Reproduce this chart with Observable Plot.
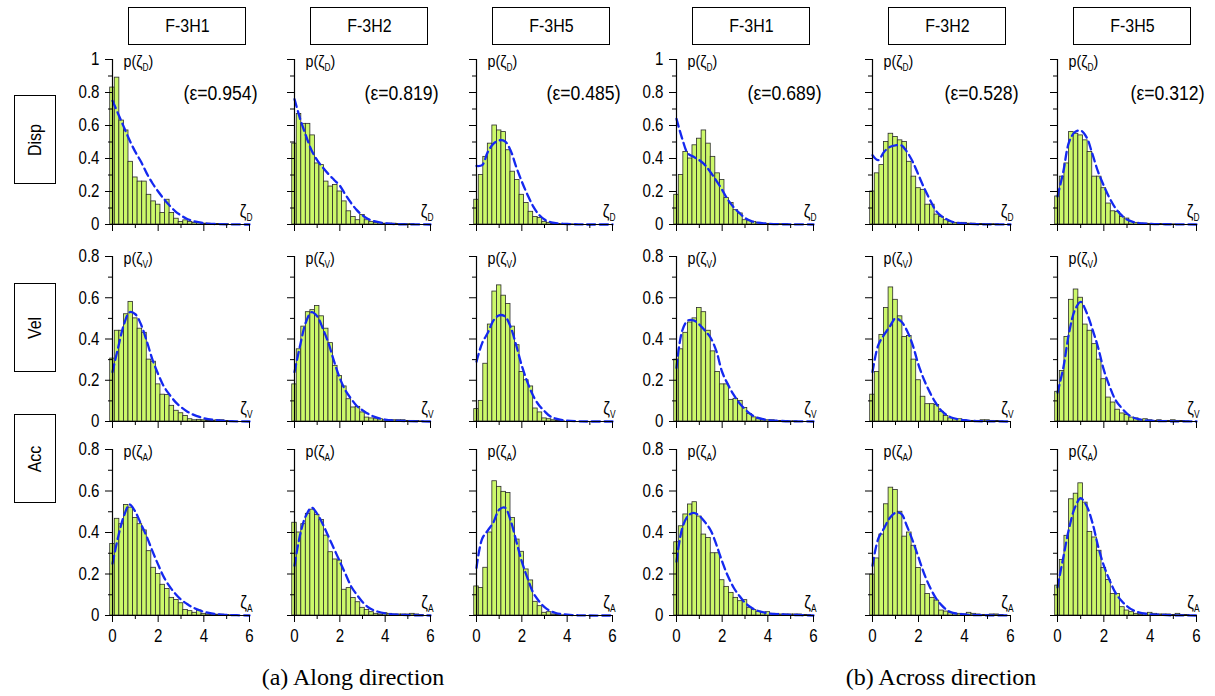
<!DOCTYPE html>
<html><head><meta charset="utf-8">
<script src="https://cdn.jsdelivr.net/npm/d3@7"></script>
<script src="https://cdn.jsdelivr.net/npm/@observablehq/plot@0.6"></script>
<style>
body{margin:0;background:#fff;}
#root{position:relative;width:1215px;height:696px;overflow:hidden;background:#fff;font-family:"Liberation Sans",Arial,sans-serif;color:#000;}
.box{position:absolute;border:1.3px solid #000;box-sizing:border-box;display:flex;align-items:center;justify-content:center;font-size:19px;background:#fff;}
.box span{display:inline-block;white-space:nowrap;transform:scaleX(0.84);}
.rowbox span{transform:rotate(-90deg) scaleX(0.84);}
.caption{position:absolute;font-family:"Liberation Serif","Times New Roman",serif;font-size:24px;transform:translate(-50%,-50%);white-space:nowrap;}
.panel{position:absolute;}
.panel svg{overflow:visible;max-width:none !important;}
</style></head>
<body><div id="root"></div>
<script>
// ---------- labels ----------
const columnLabels = ["F-3H1","F-3H2","F-3H5","F-3H1","F-3H2","F-3H5"];
const rowLabels = ["Disp","Vel","Acc"];
const rowSubscripts = ["D","V","A"];
const epsilonLabels = ["(ε=0.954)","(ε=0.819)","(ε=0.485)","(ε=0.689)","(ε=0.528)","(ε=0.312)"];
const captions = ["(a) Along direction","(b) Across direction"];
const xTickLabels = [0,2,4,6];
const xMinorTicks = [1,3,5];

// ---------- histogram bin centres and curve sample points ----------
const binCenters = [0,0.2,0.4,0.6,0.8,1,1.2,1.4,1.6,1.8,2,2.2,2.4,2.6,2.8,3,3.2,3.4,3.6,3.8,4,4.2,4.4,4.6,4.8,5,5.2,5.4,5.6,5.8];
const curveX = [0,0.25,0.5,0.75,1,1.25,1.5,1.75,2,2.25,2.5,2.75,3,3.25,3.5,4,4.5,5,6];

// ---------- Disp (row 1) ----------
const dispAlongH1Bars = [0.83,0.89,0.63,0.57,0.38,0.285,0.26,0.26,0.18,0.14,0.12,0.07,0.15,0.07,0.035,0.015,0.025,0.015,0.01,0.01,0.005,0.005,0.003,0.003,0.002,0.002,0,0,0,0];
const dispAlongH1Curve = [0.75,0.67,0.59,0.51,0.44,0.38,0.31,0.25,0.2,0.155,0.115,0.08,0.055,0.035,0.022,0.008,0.003,0.001,0];
const dispAlongH2Bars = [0.49,0.67,0.61,0.61,0.54,0.37,0.36,0.26,0.23,0.24,0.2,0.14,0.08,0.046,0.026,0.057,0.026,0.016,0.01,0.01,0.005,0.005,0.005,0.003,0.003,0.002,0.002,0,0,0];
const dispAlongH2Curve = [0.76,0.64,0.54,0.45,0.39,0.345,0.305,0.27,0.235,0.18,0.13,0.087,0.055,0.033,0.02,0.007,0.002,0.001,0];
const dispAlongH5Bars = [0.15,0.30,0.41,0.49,0.60,0.57,0.56,0.45,0.32,0.27,0.18,0.13,0.077,0.046,0.04,0.016,0.01,0.004,0.003,0.002,0.002,0.001,0,0,0,0,0,0,0,0];
const dispAlongH5Curve = [0.355,0.36,0.44,0.49,0.51,0.505,0.45,0.35,0.26,0.18,0.11,0.06,0.03,0.015,0.008,0.003,0.001,0,0];
const dispAcrossH1Bars = [0.18,0.30,0.44,0.40,0.48,0.52,0.57,0.49,0.41,0.31,0.27,0.16,0.13,0.087,0.067,0.026,0.02,0.016,0.01,0.004,0.004,0.003,0.002,0.002,0.001,0,0,0,0,0];
const dispAcrossH1Curve = [0.64,0.52,0.43,0.41,0.39,0.36,0.315,0.265,0.21,0.15,0.105,0.07,0.04,0.022,0.012,0.005,0.002,0.001,0];
const dispAcrossH2Bars = [0.20,0.31,0.36,0.50,0.55,0.53,0.51,0.50,0.38,0.29,0.22,0.21,0.12,0.12,0.06,0.046,0.026,0.016,0.01,0.01,0.01,0.005,0.005,0.003,0.003,0.002,0.002,0.001,0,0];
const dispAcrossH2Curve = [0.42,0.39,0.44,0.47,0.48,0.48,0.44,0.38,0.30,0.22,0.15,0.085,0.05,0.03,0.015,0.006,0.002,0.001,0];
const dispAcrossH5Bars = [0.17,0.29,0.37,0.56,0.55,0.54,0.51,0.44,0.29,0.29,0.22,0.127,0.08,0.076,0.046,0.036,0.016,0.01,0.005,0.005,0.004,0.003,0.003,0.002,0.002,0.001,0,0,0,0];
const dispAcrossH5Curve = [0.17,0.32,0.50,0.56,0.57,0.53,0.43,0.32,0.235,0.16,0.10,0.058,0.03,0.016,0.009,0.004,0.002,0.001,0];

// ---------- Vel (row 2) ----------
const velAlongH1Bars = [0.305,0.44,0.44,0.52,0.58,0.50,0.45,0.43,0.30,0.29,0.18,0.13,0.128,0.076,0.052,0.04,0.027,0.011,0.006,0.008,0.006,0.003,0.003,0.006,0.006,0.002,0.001,0,0,0];
const velAlongH1Curve = [0.24,0.36,0.47,0.53,0.52,0.47,0.39,0.30,0.23,0.17,0.13,0.095,0.07,0.05,0.035,0.016,0.007,0.002,0];
const velAlongH2Bars = [0.18,0.35,0.46,0.53,0.54,0.56,0.51,0.45,0.38,0.27,0.22,0.17,0.108,0.068,0.071,0.044,0.019,0.015,0.011,0.011,0.006,0.006,0.006,0.006,0.006,0.003,0.003,0.002,0.001,0];
const velAlongH2Curve = [0.24,0.37,0.48,0.53,0.51,0.45,0.38,0.29,0.21,0.15,0.11,0.075,0.055,0.037,0.024,0.009,0.004,0.002,0];
const velAlongH5Bars = [0.06,0.10,0.28,0.47,0.63,0.66,0.61,0.57,0.46,0.37,0.24,0.20,0.17,0.063,0.044,0.015,0.011,0.006,0.003,0.001,0,0,0,0,0,0,0,0,0,0];
const velAlongH5Curve = [0.29,0.38,0.43,0.49,0.515,0.51,0.46,0.37,0.27,0.19,0.125,0.08,0.05,0.025,0.014,0.004,0.001,0,0];
const velAcrossH1Bars = [0.30,0.35,0.43,0.48,0.50,0.55,0.53,0.44,0.34,0.24,0.18,0.18,0.105,0.11,0.10,0.065,0.036,0.02,0.011,0.006,0.006,0.006,0.003,0.003,0.002,0.001,0.001,0,0,0];
const velAcrossH1Curve = [0.26,0.44,0.49,0.49,0.47,0.44,0.405,0.34,0.24,0.18,0.13,0.09,0.06,0.035,0.02,0.007,0.003,0.001,0];
const velAcrossH2Bars = [0.13,0.24,0.42,0.55,0.65,0.59,0.51,0.41,0.415,0.30,0.20,0.12,0.084,0.084,0.08,0.047,0.027,0.015,0.011,0.011,0.006,0.003,0.003,0.003,0.006,0.006,0.003,0.002,0.001,0];
const velAcrossH2Curve = [0.24,0.37,0.42,0.46,0.50,0.485,0.44,0.37,0.275,0.20,0.14,0.09,0.052,0.03,0.017,0.006,0.002,0.001,0];
const velAcrossH5Bars = [0.144,0.245,0.41,0.59,0.64,0.60,0.47,0.44,0.375,0.30,0.205,0.116,0.092,0.057,0.039,0.032,0.019,0.015,0.006,0.011,0.006,0.003,0.006,0.003,0.003,0.006,0.003,0.002,0.001,0];
const velAcrossH5Curve = [0.14,0.26,0.43,0.54,0.58,0.53,0.45,0.36,0.25,0.17,0.105,0.068,0.038,0.02,0.011,0.004,0.002,0.001,0];

// ---------- Acc (row 3) ----------
const accAlongH1Bars = [0.345,0.466,0.44,0.533,0.52,0.47,0.44,0.41,0.31,0.23,0.20,0.148,0.128,0.085,0.075,0.059,0.027,0.021,0.013,0.024,0.008,0.005,0.005,0.004,0.004,0.002,0.001,0,0,0];
const accAlongH1Curve = [0.25,0.38,0.48,0.535,0.50,0.44,0.38,0.31,0.245,0.185,0.14,0.105,0.077,0.057,0.04,0.018,0.007,0.003,0];
const accAlongH2Bars = [0.447,0.40,0.44,0.49,0.51,0.485,0.46,0.385,0.305,0.27,0.265,0.124,0.132,0.084,0.064,0.037,0.027,0.016,0.008,0.005,0.011,0.008,0.005,0.005,0.005,0.005,0.008,0.005,0.002,0];
const accAlongH2Curve = [0.24,0.39,0.48,0.52,0.49,0.44,0.38,0.32,0.26,0.20,0.14,0.10,0.065,0.04,0.025,0.01,0.004,0.002,0];
const accAlongH5Bars = [0.14,0.133,0.23,0.40,0.647,0.62,0.596,0.59,0.47,0.366,0.307,0.222,0.169,0.066,0.045,0.013,0.016,0.005,0.002,0.001,0,0,0,0,0,0,0,0,0,0];
const accAlongH5Curve = [0.23,0.37,0.41,0.45,0.51,0.52,0.46,0.36,0.26,0.18,0.11,0.07,0.04,0.022,0.012,0.004,0.001,0,0];
const accAcrossH1Bars = [0.353,0.43,0.487,0.535,0.546,0.477,0.39,0.374,0.30,0.30,0.17,0.138,0.109,0.085,0.069,0.074,0.037,0.026,0.018,0.013,0.016,0.008,0.008,0.005,0.005,0.005,0.005,0.005,0.003,0.002];
const accAcrossH1Curve = [0.26,0.42,0.48,0.495,0.48,0.45,0.41,0.34,0.26,0.19,0.135,0.095,0.062,0.04,0.025,0.011,0.006,0.003,0];
const accAcrossH2Bars = [0.197,0.275,0.39,0.536,0.616,0.605,0.50,0.38,0.40,0.336,0.229,0.147,0.104,0.085,0.072,0.024,0.019,0.011,0.008,0.008,0.005,0.013,0.008,0.005,0.003,0.003,0.005,0.005,0.002,0];
const accAcrossH2Curve = [0.24,0.37,0.42,0.47,0.495,0.49,0.43,0.36,0.28,0.20,0.136,0.085,0.05,0.025,0.013,0.005,0.002,0.001,0];
const accAcrossH5Bars = [0.144,0.267,0.384,0.56,0.587,0.637,0.544,0.403,0.376,0.312,0.229,0.171,0.104,0.104,0.04,0.024,0.016,0.008,0.005,0.008,0.013,0.008,0.005,0.005,0.005,0.003,0.008,0.003,0.002,0];
const accAcrossH5Curve = [0.136,0.28,0.42,0.52,0.565,0.53,0.45,0.335,0.24,0.17,0.11,0.072,0.045,0.026,0.015,0.006,0.003,0.001,0];

const panelBars = [
  [dispAlongH1Bars,dispAlongH2Bars,dispAlongH5Bars,dispAcrossH1Bars,dispAcrossH2Bars,dispAcrossH5Bars],
  [velAlongH1Bars,velAlongH2Bars,velAlongH5Bars,velAcrossH1Bars,velAcrossH2Bars,velAcrossH5Bars],
  [accAlongH1Bars,accAlongH2Bars,accAlongH5Bars,accAcrossH1Bars,accAcrossH2Bars,accAcrossH5Bars]
];
const panelCurves = [
  [dispAlongH1Curve,dispAlongH2Curve,dispAlongH5Curve,dispAcrossH1Curve,dispAcrossH2Curve,dispAcrossH5Curve],
  [velAlongH1Curve,velAlongH2Curve,velAlongH5Curve,velAcrossH1Curve,velAcrossH2Curve,velAcrossH5Curve],
  [accAlongH1Curve,accAlongH2Curve,accAlongH5Curve,accAcrossH1Curve,accAcrossH2Curve,accAcrossH5Curve]
];

// ---------- layout (pixels) ----------
const colX0 = [112,294,476,676,872,1057];
const colW = [137,136,136,137,138,139];
const rowTop = [59,256,449];
const rowH = [165,165,166];
const FONT = '"Liberation Sans",Arial,sans-serif';
const NARROW = 0.84;

const root = document.getElementById("root");

function subscriptify(svg) {
  d3.select(svg).selectAll("text").each(function() {
    const t = this.textContent;
    const m = t.match(/^(p\(ζ|ζ)([DVA])(\)?)$/);
    if (!m) return;
    const sel = d3.select(this);
    sel.text(null);
    sel.append("tspan").text(m[1]);
    sel.append("tspan").attr("font-size", "10px").attr("dy", "4").text(m[2]);
    if (m[3]) sel.append("tspan").attr("dy", "-4").text(m[3]);
  });
}
function narrowText(svg) {
  d3.select(svg).selectAll("text").each(function() {
    const tr = this.getAttribute("transform") || "";
    const x = +(this.getAttribute("x") || 0);
    this.setAttribute("transform", `${tr} translate(${x},0) scale(${NARROW},1) translate(${-x},0)`);
  });
}

function makePanel(r, c) {
  const bars = panelBars[r][c], curveY = panelCurves[r][c];
  const yMax = r === 0 ? 1 : 0.8;
  const ml = 50, mr = 24, mt = 16, mb = r === 2 ? 40 : 14;
  const w = colW[c], h = rowH[r];
  const barData = binCenters.map((x, i) => ({x1: x - 0.1, x2: x + 0.1, h: bars[i]})).filter(d => d.h > 0);
  const curveData = curveX.map((x, i) => ({x, y: curveY[i]}));
  const showY = c === 0 || c === 3;
  const showX = r === 2;
  const yMajor = r === 0 ? [0,0.2,0.4,0.6,0.8,1] : [0,0.2,0.4,0.6,0.8];
  const yMinor = r === 0 ? [0.1,0.3,0.5,0.7,0.9] : [0.1,0.3,0.5,0.7];
  const sub = rowSubscripts[r];
  const marks = [
    Plot.rectY(barData, {x1: "x1", x2: "x2", y: "h", fill: "#ccf86a", stroke: "#2a2a2a", strokeWidth: 0.8}),
    Plot.line(curveData, {x: "x", y: "y", stroke: "#1428f0", strokeWidth: 2.3, strokeDasharray: "8,4.5", curve: "catmull-rom"}),
    Plot.ruleX([0], {stroke: "#000", strokeWidth: 1.2}),
    Plot.ruleY([0], {stroke: "#000", strokeWidth: 1.2}),
    Plot.axisX({ticks: xTickLabels, tickSize: 7, tickPadding: 7, tickFormat: showX ? (d => String(d)) : (() => ""), label: null, fontSize: 18}),
    Plot.axisX({ticks: xMinorTicks, tickSize: 4, tickFormat: () => "", label: null}),
    Plot.axisY({ticks: yMajor, tickSize: 7, tickPadding: 6, tickFormat: showY ? (d => String(+d.toFixed(1))) : (() => ""), label: null, fontSize: 18}),
    Plot.axisY({ticks: yMinor, tickSize: 4, tickFormat: () => "", label: null}),
    Plot.text([`p(ζ${sub})`], {frameAnchor: "top-left", dx: 11, dy: 2, textAnchor: "start", lineAnchor: "middle", fontSize: 17}),
    Plot.text([`ζ${sub}`], {frameAnchor: "bottom-right", dx: 3, dy: -13, textAnchor: "end", lineAnchor: "middle", fontSize: 18})
  ];
  if (r === 0) marks.push(Plot.text([epsilonLabels[c]], {frameAnchor: "top-right", dx: 8, dy: 34, textAnchor: "end", lineAnchor: "middle", fontSize: 21}));
  const svg = Plot.plot({
    width: ml + w + mr, height: mt + h + mb,
    marginLeft: ml, marginRight: mr, marginTop: mt, marginBottom: mb,
    x: {domain: [0, 6], axis: null},
    y: {domain: [0, yMax], axis: null},
    style: {fontFamily: FONT, fontSize: "17px", color: "#000", background: "transparent", overflow: "visible", maxWidth: "none"},
    marks
  });
  subscriptify(svg);
  narrowText(svg);
  const div = document.createElement("div");
  div.className = "panel";
  div.style.left = (colX0[c] - ml) + "px";
  div.style.top = (rowTop[r] - mt) + "px";
  div.style.width = (ml + w + mr) + "px";
  div.appendChild(svg);
  root.appendChild(div);
}

for (let r = 0; r < 3; r++) for (let c = 0; c < 6; c++) makePanel(r, c);

// column header boxes
columnLabels.forEach((t, c) => {
  const d = document.createElement("div");
  d.className = "box";
  d.style.left = (colX0[c] + 16) + "px";
  d.style.top = "7px";
  d.style.width = "118px";
  d.style.height = "38px";
  const s = document.createElement("span");
  s.textContent = t;
  d.appendChild(s);
  root.appendChild(d);
});
// row boxes
const rowBoxTop = [95, 283, 414];
rowLabels.forEach((t, r) => {
  const d = document.createElement("div");
  d.className = "box rowbox";
  d.style.left = "14px";
  d.style.top = rowBoxTop[r] + "px";
  d.style.width = "42px";
  d.style.height = "89px";
  const s = document.createElement("span");
  s.textContent = t;
  d.appendChild(s);
  root.appendChild(d);
});
// captions
const captionX = [353, 941];
captions.forEach((t, i) => {
  const d = document.createElement("div");
  d.className = "caption";
  d.style.left = captionX[i] + "px";
  d.style.top = "677px";
  d.textContent = t;
  root.appendChild(d);
});
</script>
</body></html>
